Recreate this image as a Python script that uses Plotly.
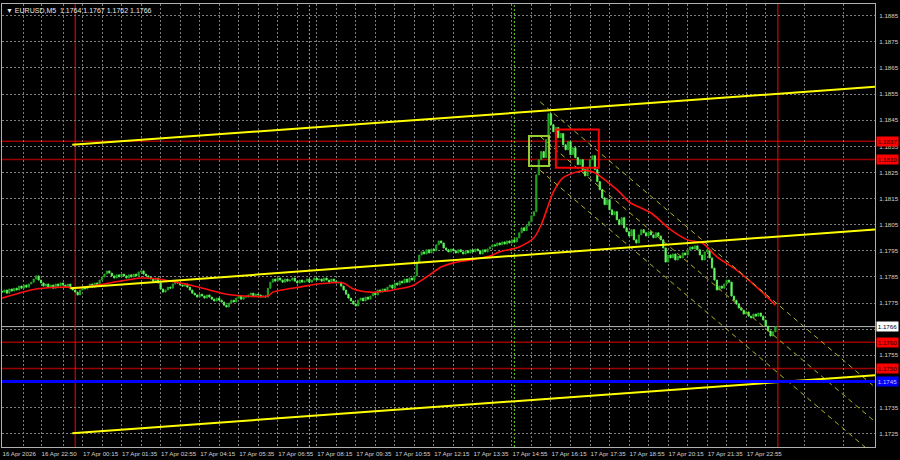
import plotly.graph_objects as go
import pandas as pd

# ---------------- data ----------------
symbol_title = "\u25bc EURUSD,M5  1.1764 1.1767 1.1762 1.1766"
first_bar = "2026-04-16 21:30"
first_open = 1.17796

closes = [
    1.17792, 1.17800, 1.17788, 1.17804, 1.17796, 1.17807, 1.17800, 1.17815, 1.17807, 1.17819,
    1.17811, 1.17823, 1.17830, 1.17842, 1.17854, 1.17838, 1.17827, 1.17815, 1.17823, 1.17811,
    1.17819, 1.17807, 1.17823, 1.17815, 1.17827, 1.17819, 1.17811, 1.17823, 1.17807, 1.17800,
    1.17792, 1.17781, 1.17800, 1.17811, 1.17804, 1.17815, 1.17823, 1.17811, 1.17827, 1.17819,
    1.17838, 1.17850, 1.17861, 1.17873, 1.17865, 1.17854, 1.17846, 1.17858, 1.17850, 1.17861,
    1.17854, 1.17846, 1.17858, 1.17850, 1.17861, 1.17854, 1.17869, 1.17873, 1.17861, 1.17854,
    1.17850, 1.17842, 1.17834, 1.17846, 1.17827, 1.17804, 1.17792, 1.17800, 1.17811, 1.17807,
    1.17823, 1.17830, 1.17827, 1.17819, 1.17815, 1.17823, 1.17811, 1.17800, 1.17788, 1.17781,
    1.17773, 1.17784, 1.17777, 1.17769, 1.17781, 1.17773, 1.17765, 1.17758, 1.17769, 1.17761,
    1.17754, 1.17742, 1.17735, 1.17750, 1.17761, 1.17754, 1.17769, 1.17777, 1.17765, 1.17773,
    1.17773, 1.17781, 1.17788, 1.17777, 1.17784, 1.17781, 1.17773, 1.17777, 1.17773, 1.17807,
    1.17830, 1.17842, 1.17834, 1.17846, 1.17838, 1.17830, 1.17842, 1.17834, 1.17838, 1.17846,
    1.17834, 1.17827, 1.17838, 1.17830, 1.17834, 1.17842, 1.17830, 1.17838, 1.17846, 1.17838,
    1.17842, 1.17834, 1.17846, 1.17838, 1.17830, 1.17842, 1.17834, 1.17827, 1.17830, 1.17815,
    1.17800, 1.17784, 1.17769, 1.17758, 1.17746, 1.17739, 1.17761, 1.17769, 1.17758, 1.17773,
    1.17765, 1.17777, 1.17788, 1.17781, 1.17800, 1.17792, 1.17804, 1.17796, 1.17811, 1.17819,
    1.17807, 1.17827, 1.17819, 1.17834, 1.17827, 1.17842, 1.17830, 1.17846, 1.17838, 1.17854,
    1.17907, 1.17934, 1.17946, 1.17938, 1.17954, 1.17942, 1.17957, 1.17950, 1.17973, 1.17988,
    1.17980, 1.17961, 1.17954, 1.17946, 1.17957, 1.17950, 1.17942, 1.17954, 1.17946, 1.17938,
    1.17950, 1.17942, 1.17954, 1.17946, 1.17957, 1.17950, 1.17938, 1.17954, 1.17946, 1.17957,
    1.17965, 1.17973, 1.17969, 1.17980, 1.17973, 1.17984, 1.17976, 1.17988, 1.17980, 1.17992,
    1.17984, 1.18000, 1.18019, 1.18038, 1.18027, 1.18046, 1.18061, 1.18084, 1.18100, 1.18241,
    1.18299, 1.18330, 1.18307, 1.18376, 1.18475, 1.18433, 1.18406, 1.18422, 1.18383, 1.18399,
    1.18356, 1.18337, 1.18368, 1.18318, 1.18345, 1.18307, 1.18280, 1.18299, 1.18261, 1.18237,
    1.18268, 1.18299, 1.18314, 1.18261, 1.18215, 1.18184, 1.18153, 1.18127, 1.18146, 1.18107,
    1.18088, 1.18100, 1.18069, 1.18050, 1.18077, 1.18038, 1.18023, 1.18007, 1.18031, 1.17992,
    1.17980, 1.18011, 1.18031, 1.18019, 1.18007, 1.18023, 1.18011, 1.18000, 1.18019, 1.18007,
    1.17992, 1.17961, 1.17907, 1.17934, 1.17923, 1.17938, 1.17915, 1.17930, 1.17923, 1.17942,
    1.17934, 1.17954, 1.17965, 1.17957, 1.17969, 1.17954, 1.17934, 1.17915, 1.17946, 1.17954,
    1.17923, 1.17884, 1.17838, 1.17800, 1.17815, 1.17807, 1.17823, 1.17838, 1.17830, 1.17777,
    1.17761, 1.17746, 1.17731, 1.17723, 1.17708, 1.17716, 1.17700, 1.17693, 1.17708, 1.17700,
    1.17712, 1.17700, 1.17685, 1.17662, 1.17643, 1.17624, 1.17640, 1.17660,
]

# moving average (red), read at sample bars (index into closes)
ma_idx = [0, 14, 27, 30, 44, 57, 64, 69, 77, 85, 92, 99, 109, 111, 117, 122, 129, 134,
          140, 144, 151, 158, 164, 168, 174, 180, 185, 192, 200, 204, 212, 218, 221, 224,
          226, 230, 236, 240, 243, 248, 253, 257, 266, 274, 281, 287, 293, 301, 312, 317]
ma_vals = [1.17769, 1.17804, 1.17811, 1.17807, 1.17827, 1.17846, 1.17842, 1.17834, 1.17819,
           1.17800, 1.17784, 1.17777, 1.17777, 1.17792, 1.17804, 1.17811, 1.17823, 1.17827,
           1.17827, 1.17804, 1.17792, 1.17796, 1.17807, 1.17815, 1.17850, 1.17888, 1.17904,
           1.17915, 1.17930, 1.17946, 1.17965, 1.18000, 1.18050, 1.18127, 1.18176, 1.18230,
           1.18253, 1.18257, 1.18249, 1.18215, 1.18176, 1.18137, 1.18095, 1.18031, 1.17992,
           1.17980, 1.17927, 1.17877, 1.17788, 1.17742]

# x-axis labels
time_labels = ["16 Apr 2026", "16 Apr 22:50", "17 Apr 00:15", "17 Apr 01:35", "17 Apr 02:55",
               "17 Apr 04:15", "17 Apr 05:35", "17 Apr 06:55", "17 Apr 08:15", "17 Apr 09:35",
               "17 Apr 10:55", "17 Apr 12:15", "17 Apr 13:35", "17 Apr 14:55", "17 Apr 16:15",
               "17 Apr 17:35", "17 Apr 18:55", "17 Apr 20:15", "17 Apr 21:35", "17 Apr 22:55"]
time_label_at = ["2026-04-16 21:30", "2026-04-16 22:50"] + [
    "2026-04-17 " + s.split(" ")[-1] for s in time_labels[2:]]
extra_grid_at = ["2026-04-16 22:15", "2026-04-16 23:35"]

# price axis
price_ticks = [1.1725, 1.1735, 1.1745, 1.1755, 1.1765, 1.1775, 1.1785, 1.1795, 1.1805,
               1.1815, 1.1825, 1.1835, 1.1845, 1.1855, 1.1865, 1.1875, 1.1885]

# trend lines (yellow): [start time, end time], [start price, end price]
trend_times = [["2026-04-16 23:54", "2026-04-18 03:19"],
               ["2026-04-16 23:50", "2026-04-18 03:19"],
               ["2026-04-16 23:54", "2026-04-18 03:19"]]
trend_prices = [[1.18356, 1.18578], [1.17807, 1.18032], [1.17252, 1.17474]]

# regression channel (dashed)
channel_times = ["2026-04-17 15:53", "2026-04-18 03:19"]
channel_prices = [[1.18520, 1.17428], [1.18388, 1.17296], [1.18258, 1.17166]]

# horizontal levels
red_levels = [1.1837, 1.1830, 1.1760, 1.1750]
blue_level = 1.1745
current_price = 1.1766

# vertical lines
day_breaks = ["2026-04-17 00:00", "2026-04-18 00:00"]
session_marks = ["2026-04-17 08:00", "2026-04-17 15:00"]

# boxes: (t0, t1, p0, p1)
green_box = ("2026-04-17 15:30", "2026-04-17 16:11", 1.18275, 1.18390)
red_box = ("2026-04-17 16:25", "2026-04-17 17:53", 1.18268, 1.18415)

x_range = ["2026-04-16 21:30", "2026-04-18 03:19"]
y_range = [1.17199, 1.18895]

# ---------------- build ----------------
times = pd.date_range(first_bar, periods=len(closes), freq="5min")
opens = [first_open] + closes[:-1]
highs = [max(o, c) for o, c in zip(opens, closes)]
lows = [min(o, c) for o, c in zip(opens, closes)]

FONT = "Liberation Sans"
FS = 6.2
GRID = "#7c7c7c"
TXT = "#d0d0d0"

fig = go.Figure()
fig.add_trace(go.Candlestick(
    x=times, open=opens, high=highs, low=lows, close=closes,
    increasing=dict(line=dict(color="#23a023", width=1), fillcolor="#23a023"),
    decreasing=dict(line=dict(color="#55f055", width=1), fillcolor="#9dff9d"),
    whiskerwidth=0, showlegend=False, hoverinfo="skip"))

fig.add_trace(go.Scatter(
    x=[times[i] for i in ma_idx], y=ma_vals, mode="lines",
    line=dict(color="#ff1010", width=1.6, shape="spline", smoothing=0.8),
    showlegend=False, hoverinfo="skip"))

for pr in channel_prices:
    fig.add_trace(go.Scatter(
        x=channel_times, y=pr, mode="lines",
        line=dict(color="#b4b425", width=1, dash="5px,4px"),
        showlegend=False, hoverinfo="skip"))

for tt, pr in zip(trend_times, trend_prices):
    fig.add_trace(go.Scatter(
        x=tt, y=pr, mode="lines", line=dict(color="#ffff00", width=2),
        showlegend=False, hoverinfo="skip"))

shapes = []
for lv in red_levels:
    shapes.append(dict(type="line", xref="paper", x0=0, x1=1, yref="y", y0=lv, y1=lv,
                       line=dict(color="#9a0000", width=1.5), layer="below"))
shapes.append(dict(type="line", xref="paper", x0=0, x1=1, yref="y", y0=current_price,
                   y1=current_price, line=dict(color="#b8b8b8", width=1), layer="below"))
shapes.append(dict(type="line", xref="paper", x0=0, x1=1, yref="y", y0=blue_level,
                   y1=blue_level, line=dict(color="#0000ff", width=3)))
for t in day_breaks:
    shapes.append(dict(type="line", xref="x", x0=t, x1=t, yref="paper", y0=0, y1=1,
                       line=dict(color="#ff0000", width=1), layer="below"))
for t in session_marks:
    shapes.append(dict(type="line", xref="x", x0=t, x1=t, yref="paper", y0=0, y1=1,
                       line=dict(color="#5fcf1f", width=1, dash="2px,2px"), layer="below"))
for box, col in ((green_box, "#9acd32"), (red_box, "#ff0000")):
    shapes.append(dict(type="rect", xref="x", yref="y", x0=box[0], x1=box[1],
                       y0=box[2], y1=box[3], line=dict(color=col, width=2),
                       fillcolor="rgba(0,0,0,0)"))

annotations = [dict(text=symbol_title, xref="paper", yref="paper", x=0, y=1,
                    xanchor="left", yanchor="top", xshift=2, yshift=-1, showarrow=False,
                    font=dict(family=FONT, size=7, color="#e8e8e8"))]


def level_label(val, bg, fg):
    return dict(text=f"{val:.4f}", xref="paper", yref="y", x=1, y=val, xanchor="left",
                yanchor="middle", xshift=1, showarrow=False, bgcolor=bg, borderpad=0,
                font=dict(family=FONT, size=FS, color=fg), width=21, height=9)


for lv in red_levels:
    annotations.append(level_label(lv, "#ff0000", "#1a0000"))
annotations.append(level_label(blue_level, "#0000ff", "#c8c8ff"))
annotations.append(level_label(current_price, "#ffffff", "#000000"))

grid_times = sorted(time_label_at + extra_grid_at + [
    str(t) for t in pd.date_range("2026-04-17 00:55", x_range[1], freq="80min")])
label_map = dict(zip([str(pd.Timestamp(t)) for t in time_label_at], time_labels))
grid_text = [label_map.get(str(pd.Timestamp(t)), "") for t in grid_times]

fig.update_layout(
    width=900, height=460,
    margin=dict(l=2, r=25, t=4, b=13, autoexpand=False),
    paper_bgcolor="#000000", plot_bgcolor="#000000",
    shapes=shapes, annotations=annotations,
    xaxis=dict(type="date", range=x_range, rangeslider=dict(visible=False),
               tickmode="array", tickvals=grid_times, ticktext=grid_text,
               ticklabelposition="outside right", ticks="", tickangle=0,
               automargin=False, ticklabelstandoff=1,
               tickfont=dict(family=FONT, size=FS, color=TXT),
               showgrid=True, gridcolor=GRID, griddash="2px,2px", gridwidth=1,
               showline=True, linecolor="#b0b0b0", linewidth=1, mirror=True,
               zeroline=False, fixedrange=True),
    yaxis=dict(side="right", range=y_range, tickmode="array", tickvals=price_ticks,
               ticktext=[f"{v:.4f}" for v in price_ticks], ticks="",
               automargin=False, ticklabelstandoff=2,
               tickfont=dict(family=FONT, size=FS, color=TXT),
               showgrid=True, gridcolor=GRID, griddash="2px,2px", gridwidth=1,
               showline=True, linecolor="#b0b0b0", linewidth=1, mirror=True,
               zeroline=False, fixedrange=True),
)

fig.write_html("out.html", config={"displayModeBar": False},
               post_script="document.body.style.margin='0';"
                           "document.body.style.background='#000';")
